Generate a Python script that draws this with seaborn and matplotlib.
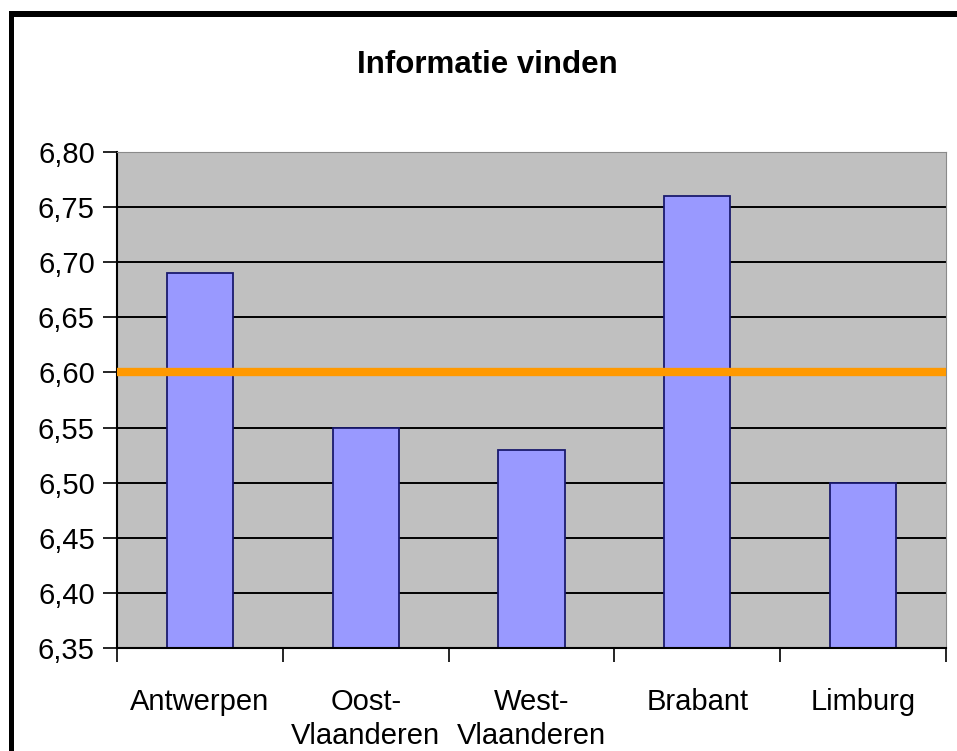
import matplotlib
matplotlib.use("Agg")
import matplotlib.pyplot as plt
from matplotlib.patches import Rectangle
from matplotlib.ticker import FuncFormatter, FixedLocator
import seaborn as sns
import pandas as pd
import numpy as np

# ---- data ----
categories = ["Antwerpen", "Oost-\nVlaanderen", "West-\nVlaanderen", "Brabant", "Limburg"]
values = [6.69, 6.55, 6.53, 6.76, 6.50]
average = 6.60
y_ticks = [6.35, 6.40, 6.45, 6.50, 6.55, 6.60, 6.65, 6.70, 6.75, 6.80]
title = "Informatie vinden"

df = pd.DataFrame({"provincie": categories, "score": values})

sns.set_theme(style="white")
plt.rcParams["font.family"] = ["Liberation Sans", "DejaVu Sans"]
plt.rcParams["text.color"] = "black"
plt.rcParams["xtick.color"] = "black"
plt.rcParams["ytick.color"] = "black"
plt.rcParams["xtick.labelcolor"] = "black"
plt.rcParams["ytick.labelcolor"] = "black"

W, H = 957, 751
fig = plt.figure(figsize=(W / 100, H / 100), dpi=100)
fig.patch.set_facecolor("white")
ax = fig.add_axes([117 / W, 1 - 648 / H, (946 - 117) / W, (648 - 152) / H])
ax.set_facecolor("#C0C0C0")

ax.set_axisbelow(True)
ax.yaxis.grid(True, color="black", linewidth=1.4)
ax.xaxis.grid(False)

sns.barplot(data=df, x="provincie", y="score", color="#9999FF", width=0.4,
            edgecolor="#1a1a6e", linewidth=1.3, saturation=1, ax=ax, zorder=2)

ax.axhline(average, color="#FF9900", linewidth=6, zorder=3)

ax.set_ylim(y_ticks[0], y_ticks[-1])
ax.set_xlim(-0.5, len(categories) - 0.5)
ax.set_yticks(y_ticks)
ax.yaxis.set_major_formatter(FuncFormatter(lambda v, p: f"{v:.2f}".replace(".", ",")))
ax.tick_params(axis="y", which="major", direction="out", length=10, width=1.2,
               color="black", labelcolor="black", labelsize=21, pad=6, left=True)

ax.xaxis.set_minor_locator(FixedLocator(np.arange(-0.5, len(categories), 1.0)))
ax.tick_params(axis="x", which="minor", direction="out", length=10, width=1.2,
               color="black", bottom=True)
ax.tick_params(axis="x", which="major", length=0, labelsize=21, pad=29,
               labelcolor="black")
for lbl in ax.get_xticklabels():
    lbl.set_linespacing(1.25)
    lbl.set_verticalalignment("top")

ax.set_xlabel("")
ax.set_ylabel("")

for s in ["left", "bottom"]:
    ax.spines[s].set_color("black")
    ax.spines[s].set_linewidth(1.5)
for s in ["top", "right"]:
    ax.spines[s].set_color("#8a8a8a")
    ax.spines[s].set_linewidth(0.8)

fig.text(487 / W, 1 - 65 / H, title, ha="center", va="center",
         fontsize=22.5, fontweight="bold", color="black")

# black frame (top and left edges of the cropped chart border)
fig.add_artist(Rectangle((9 / W, 1 - 17 / H), 1 - 9 / W, 6 / H,
                         transform=fig.transFigure, facecolor="black", edgecolor="none"))
fig.add_artist(Rectangle((9 / W, 0), 5 / W, 1 - 11 / H,
                         transform=fig.transFigure, facecolor="black", edgecolor="none"))

fig.savefig("out.png", dpi=100, facecolor="white")
